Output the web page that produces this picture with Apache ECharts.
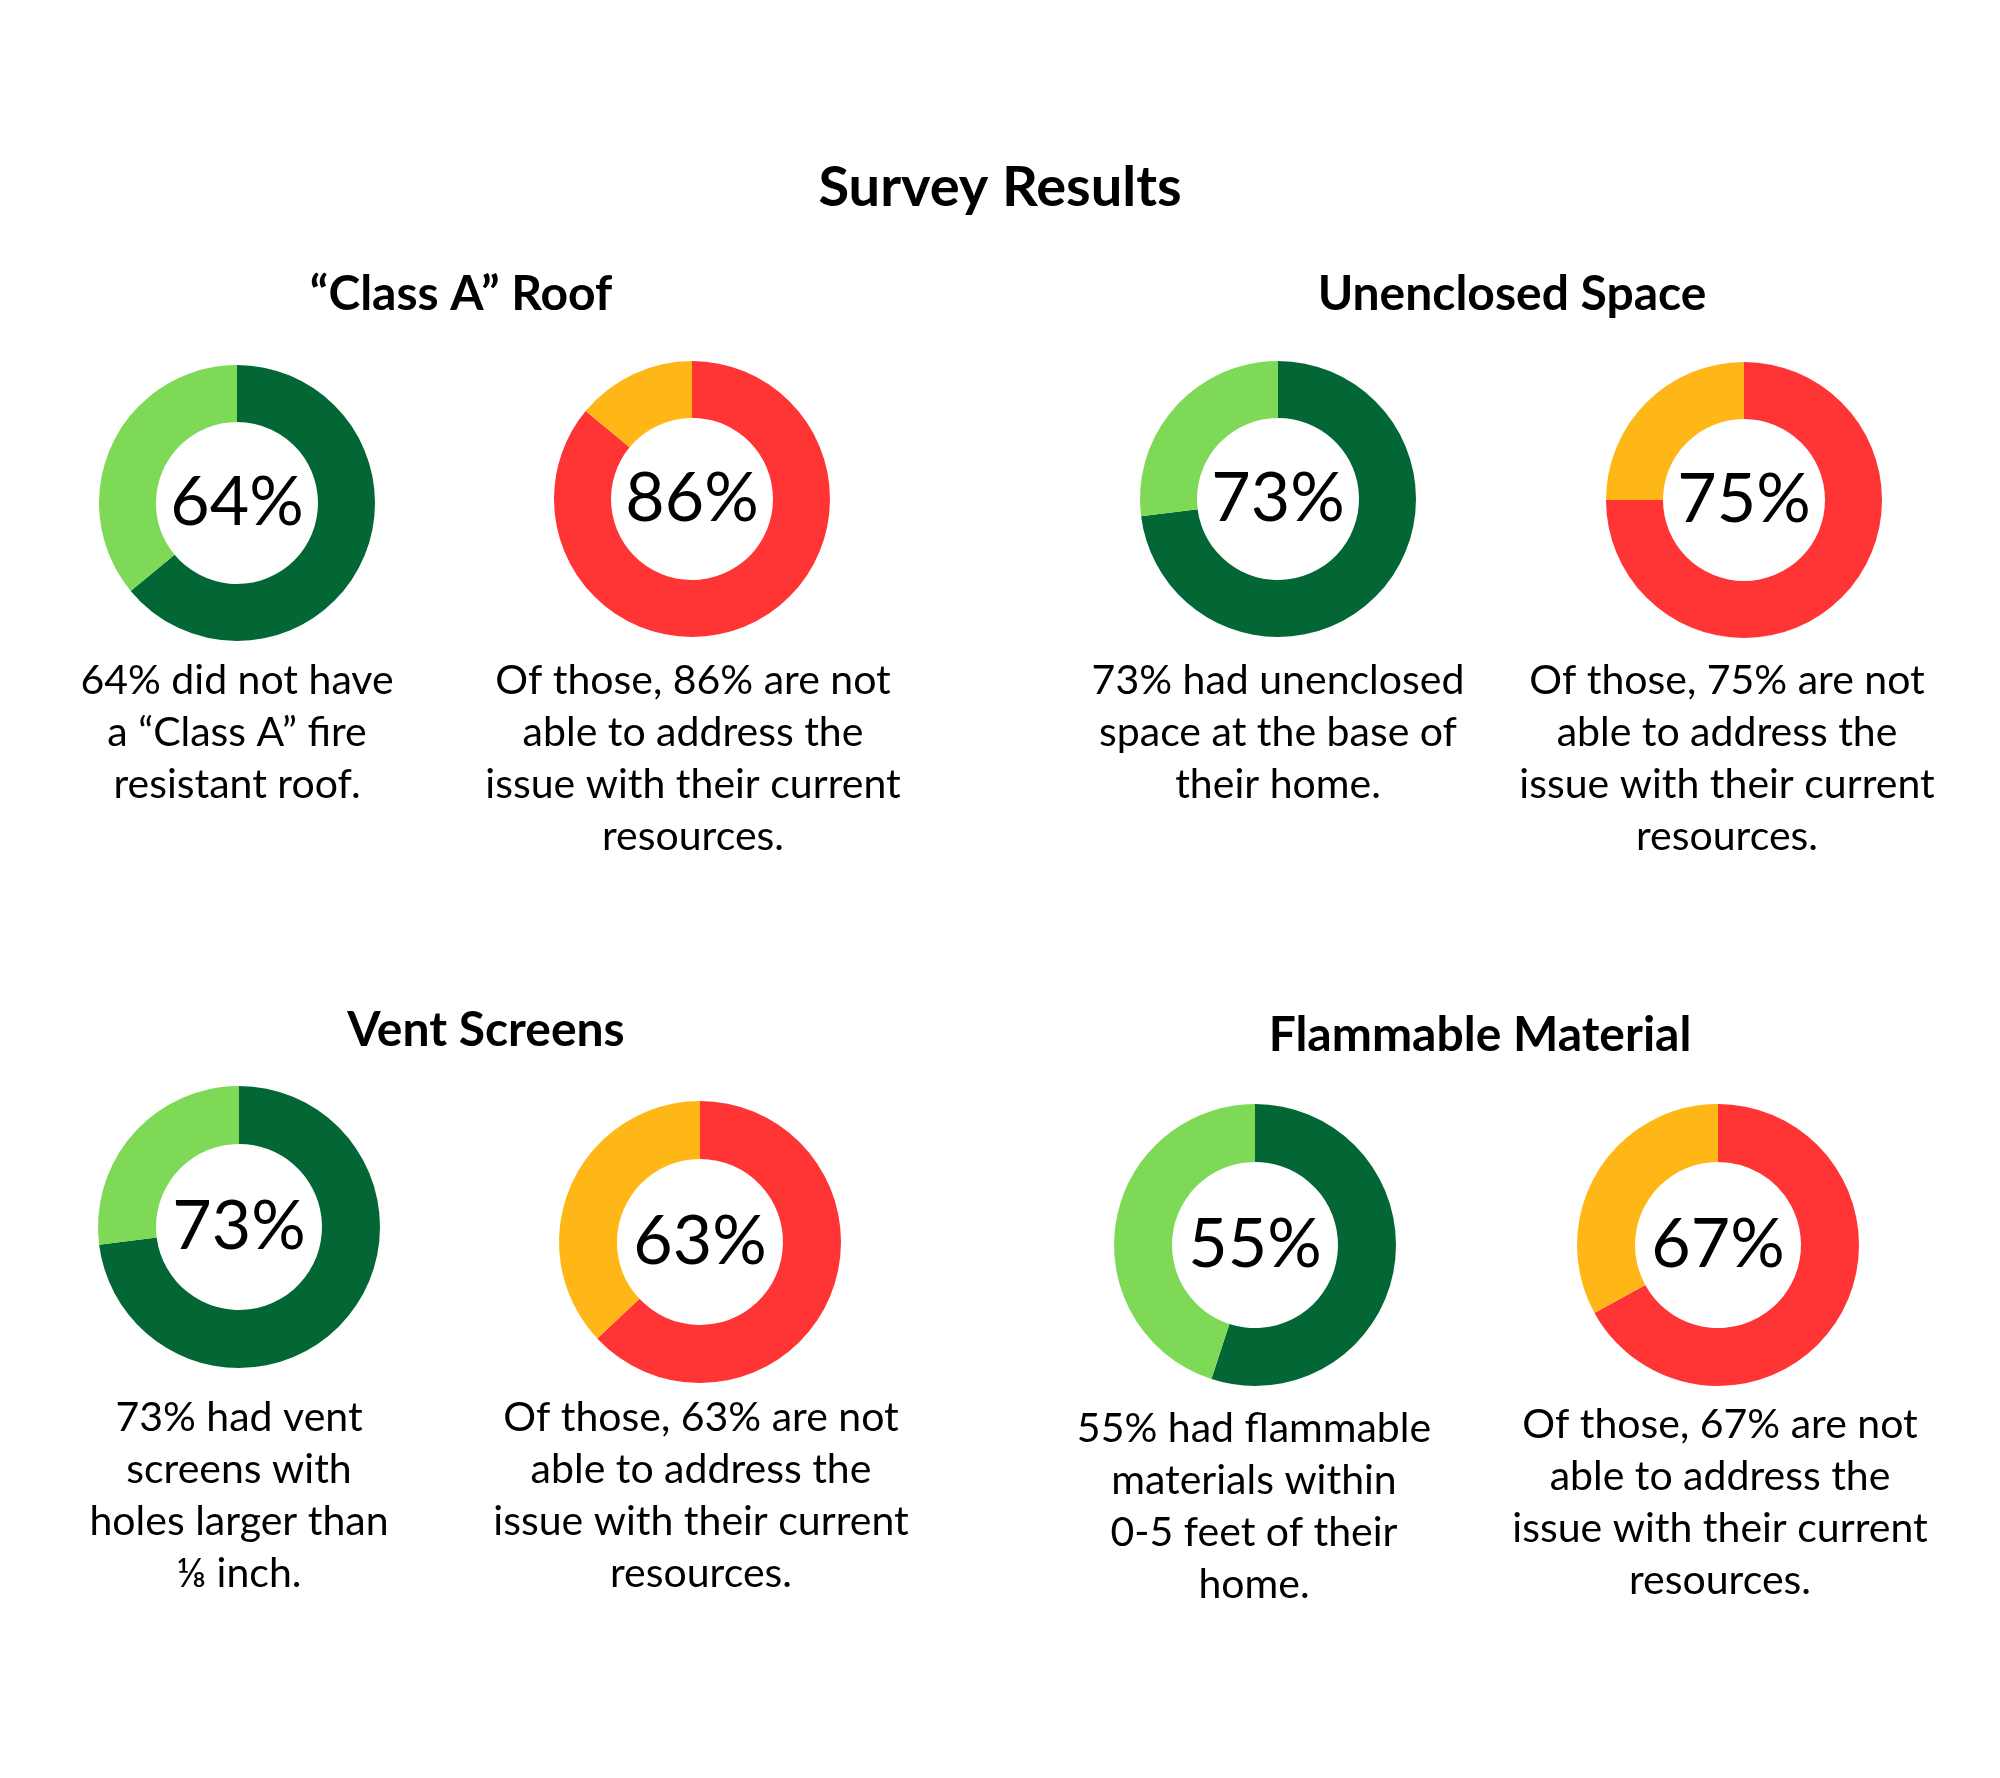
<!DOCTYPE html>
<html>
<head>
<meta charset="utf-8">
<script src="https://cdn.jsdelivr.net/npm/echarts@6/dist/echarts.min.js"></script>
<style>
html, body { margin: 0; padding: 0; background: #ffffff; }
#main { width: 2000px; height: 1778px; }
</style>
</head>
<body>
<div id="main"></div>
<script>
var panelTitles = ['“Class A” Roof', 'Unenclosed Space', 'Vent Screens', 'Flammable Material'];
var havePct = [64, 73, 73, 55];
var cannotPct = [86, 75, 63, 67];
var haveText = [
    '64% did not have\na “Class A” fire\nresistant roof.',
    '73% had unenclosed\nspace at the base of\ntheir home.',
    '73% had vent\nscreens with\nholes larger than\n⅛ inch.',
    '55% had flammable\nmaterials within\n0-5 feet of their\nhome.'
];
var cannotText = [
    'Of those, 86% are not\nable to address the\nissue with their current\nresources.',
    'Of those, 75% are not\nable to address the\nissue with their current\nresources.',
    'Of those, 63% are not\nable to address the\nissue with their current\nresources.',
    'Of those, 67% are not\nable to address the\nissue with their current\nresources.'
];

// layout per panel
var titlePos = [[456, 290], [1507, 290], [481, 1026], [1475, 1031]];
var haveCenter = [[237, 503], [1278, 499], [239, 1227], [1255, 1245]];
var cannotCenter = [[692, 499], [1744, 500], [700, 1242], [1718, 1245]];
var haveRadius = [138, 138, 141, 141];
var haveTextPos = [[232, 650], [1273, 650], [234, 1387], [1249, 1398]];
var cannotTextPos = [[688, 650], [1722, 650], [696, 1387], [1715, 1394]];

var dark = '#026735', light = '#7ED957', red = '#FF3434', yellow = '#FFB718';
var font = 'Lato';

var myChart = echarts.init(document.getElementById('main'));

var titles = [{
    text: 'Survey Results',
    left: 995, top: 183,
    textAlign: 'center', textVerticalAlign: 'middle',
    textStyle: { fontFamily: font, fontWeight: 'bold', fontSize: 56, color: '#000' }
}];
var series = [];

function ring(center, r, pct, c1, c2) {
    return {
        type: 'pie',
        radius: [Math.round(r * 0.59), r],
        center: center,
        startAngle: 90,
        clockwise: true,
        silent: true,
        avoidLabelOverlap: false,
        labelLine: { show: false },
        label: { show: false },
        data: [
            { value: pct, itemStyle: { color: c1 },
              label: { show: true, position: 'center', formatter: pct + '%',
                       fontFamily: font, fontSize: 68, color: '#000' } },
            { value: 100 - pct, itemStyle: { color: c2 } }
        ]
    };
}

function desc(text, pos) {
    return {
        text: text,
        left: pos[0], top: pos[1],
        textAlign: 'center',
        textStyle: { fontFamily: font, fontWeight: 'normal', fontSize: 41,
                     lineHeight: 52, color: '#000' }
    };
}

for (var i = 0; i < 4; i++) {
    titles.push({
        text: panelTitles[i],
        left: titlePos[i][0], top: titlePos[i][1],
        textAlign: 'center', textVerticalAlign: 'middle',
        textStyle: { fontFamily: font, fontWeight: 'bold', fontSize: 48, color: '#000' }
    });
    titles.push(desc(haveText[i], haveTextPos[i]));
    titles.push(desc(cannotText[i], cannotTextPos[i]));
    series.push(ring(haveCenter[i], haveRadius[i], havePct[i], dark, light));
    series.push(ring(cannotCenter[i], haveRadius[i], cannotPct[i], red, yellow));
}

var option = {
    backgroundColor: '#ffffff',
    animation: false,
    title: titles,
    series: series
};
myChart.setOption(option);
</script>
</body>
</html>
